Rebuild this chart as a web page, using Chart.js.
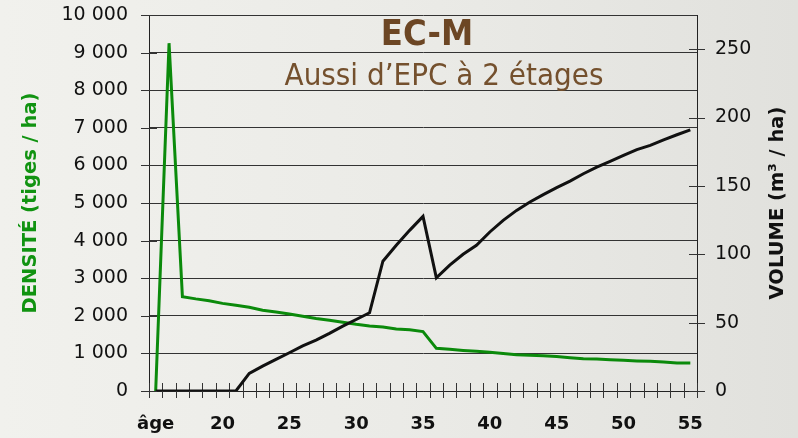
<!doctype html>
<html lang="fr">
  <head>
    <meta charset="utf-8">
    <script src="https://cdn.jsdelivr.net/npm/chart.js@4.4.0/dist/chart.umd.min.js"></script>
    <title>EC-M</title>
    <style>
      body { margin:0; background: linear-gradient(90deg, #f1f1ed 0%, #ebebe7 50%, #e1e1dd 100%); }
      canvas { display:block; }
    </style>
  </head>
  <body>
    <canvas id="ecmChart" width="798" height="438"></canvas>

<script>

// ages (years)
const ages = [15, 16, 17, 18, 19, 20, 21, 22, 23, 24, 25, 26, 27, 28, 29, 30, 31, 32, 33, 34, 35,
              36, 37, 38, 39, 40, 41, 42, 43, 44, 45, 46, 47, 48, 49, 50, 51, 52, 53, 54, 55];

// densité (tiges / ha)
const densite = [0, 9250, 2510, 2450, 2400, 2330, 2280, 2225, 2150, 2100, 2050, 1990, 1930, 1880, 1830, 1775,
                 1730, 1700, 1650, 1630, 1580, 1135, 1110, 1080, 1055, 1030, 1000, 965, 950, 940, 915,
                 885, 860, 850, 830, 815, 800, 790, 770, 745, 745];

// volume (m3 / ha)
const volume = [0, 0, 0, 0, 0, 0, 0, 12.9, 18.2, 23.1, 28, 33, 37.2, 42.1, 47.4, 52.3,
                57.2, 94.9, 106.6, 117.5, 127.7, 82.7, 92, 100, 106.6, 116.3, 124.8, 132.1, 138.2, 143.6, 148.7,
                153.5, 158.9, 163.7, 167.9, 172.3, 176.6, 179.6, 183.7, 187.4, 191];

const firstLabel = 'âge';
const titleText = 'EC-M';
const subtitleText = 'Aussi d’EPC à 2 étages';
const leftTitle = 'DENSITÉ (tiges / ha)';
const rightTitle = 'VOLUME (m³ / ha)';

function fmt(v) {
  return String(v).replace(/\B(?=(\d{3})+(?!\d))/g, ' ');
}

// tick marks crossing the axes (Excel style) + texts
const extras = {
  id: 'extras',
  beforeDatasetsDraw(chart) {
    const ctx = chart.ctx;
    const xs = chart.scales.x, ys = chart.scales.y, yr = chart.scales.y1;
    ctx.save();
    ctx.strokeStyle = '#333';
    ctx.lineWidth = 1;
    ctx.beginPath();
    const n = xs.ticks.length;
    for (let i = 0; i <= n; i++) {
      const px = Math.round(xs.left + i * xs.width / n) + 0.5;
      ctx.moveTo(px, xs.top - 8);
      ctx.lineTo(px, xs.top + 7);
    }
    ys.ticks.forEach(t => {
      const py = Math.round(ys.getPixelForValue(t.value)) + 0.5;
      ctx.moveTo(ys.right - 8, py);
      ctx.lineTo(ys.right + 8, py);
    });
    yr.ticks.forEach(t => {
      const py = Math.round(yr.getPixelForValue(t.value)) + 0.5;
      ctx.moveTo(yr.left - 8, py);
      ctx.lineTo(yr.left + 8, py);
    });
    ctx.stroke();
    ctx.restore();
  },
  afterDraw(chart) {
    const ctx = chart.ctx;
    const area = chart.chartArea;
    ctx.save();
    ctx.fillStyle = '#6c4624';
    ctx.textAlign = 'center';
    ctx.textBaseline = 'alphabetic';
    ctx.font = 'bold 36px "DejaVu Sans Condensed", "DejaVu Sans"';
    ctx.fillText(titleText, 427, 45);
    ctx.fillStyle = '#74502d';
    ctx.font = '31px "DejaVu Sans Condensed", "DejaVu Sans"';
    ctx.fillText(subtitleText, 444, 85);

    ctx.translate(chart.width - 20, (area.top + area.bottom) / 2);
    ctx.rotate(-Math.PI / 2);
    ctx.fillStyle = '#111';
    ctx.textBaseline = 'middle';
    ctx.font = 'bold 19.5px "DejaVu Sans"';
    ctx.fillText(rightTitle, 0, 0);
    ctx.restore();
  }
};

var ctx = document.getElementById('ecmChart').getContext('2d');
var ecmChart = new Chart(ctx, {
  type: 'line',
  data: {
    labels: ages,
    datasets: [
      {
        label: 'Volume',
        data: volume,
        yAxisID: 'y1',
        borderColor: '#111',
        borderWidth: 3,
        pointRadius: 0,
        tension: 0,
        fill: false
      },
      {
        label: 'Densité',
        data: densite,
        yAxisID: 'y',
        borderColor: '#0b8a0b',
        borderWidth: 3,
        pointRadius: 0,
        tension: 0,
        fill: false
      }
    ]
  },
  plugins: [extras],
  options: {
    responsive: false,
    animation: false,
    layout: { padding: 0 },
    scales: {
      x: {
        type: 'category',
        offset: true,
        grid: { offset: true, drawOnChartArea: false, drawTicks: false },
        border: { display: true, color: '#222', width: 1 },
        ticks: {
          autoSkip: false,
          maxRotation: 0,
          padding: 23,
          color: '#111',
          font: { family: 'DejaVu Sans', size: 18, weight: 'bold' },
          callback: function (val, index) {
            const age = ages[index];
            if (index === 0) return firstLabel;
            return age % 5 === 0 ? String(age) : '';
          }
        },
        afterFit: function (scale) { scale.height = 47; }
      },
      y: {
        position: 'left',
        min: 0,
        max: 10000,
        grid: { color: '#333', lineWidth: 1, drawTicks: false },
        border: { display: true, color: '#222', width: 1 },
        ticks: {
          stepSize: 1000,
          padding: 21,
          color: '#111',
          font: { family: 'DejaVu Sans', size: 19 },
          callback: function (v) { return fmt(v); }
        },
        title: {
          display: true,
          text: leftTitle,
          color: '#119311',
          padding: { top: 19 },
          font: { family: 'DejaVu Sans', size: 19.5, weight: 'bold' }
        },
        afterFit: function (scale) {
          scale.width = 149;
          scale.paddingTop = 15;
          scale.paddingBottom = 0;
        }
      },
      y1: {
        position: 'right',
        min: 0,
        max: 275,
        grid: { drawOnChartArea: false, drawTicks: false },
        border: { display: true, color: '#222', width: 1 },
        ticks: {
          stepSize: 50,
          padding: 18,
          color: '#111',
          font: { family: 'DejaVu Sans', size: 19 }
        },
        afterBuildTicks: function (scale) {
          scale.ticks = scale.ticks.filter(t => t.value % 50 === 0);
        },
        afterFit: function (scale) {
          scale.width = 101;
          scale.paddingTop = 0;
          scale.paddingBottom = 0;
        }
      }
    },
    plugins: {
      legend: { display: false },
      title: { display: false },
      tooltip: { enabled: false }
    }
  }
});

</script>
  </body>
</html>
